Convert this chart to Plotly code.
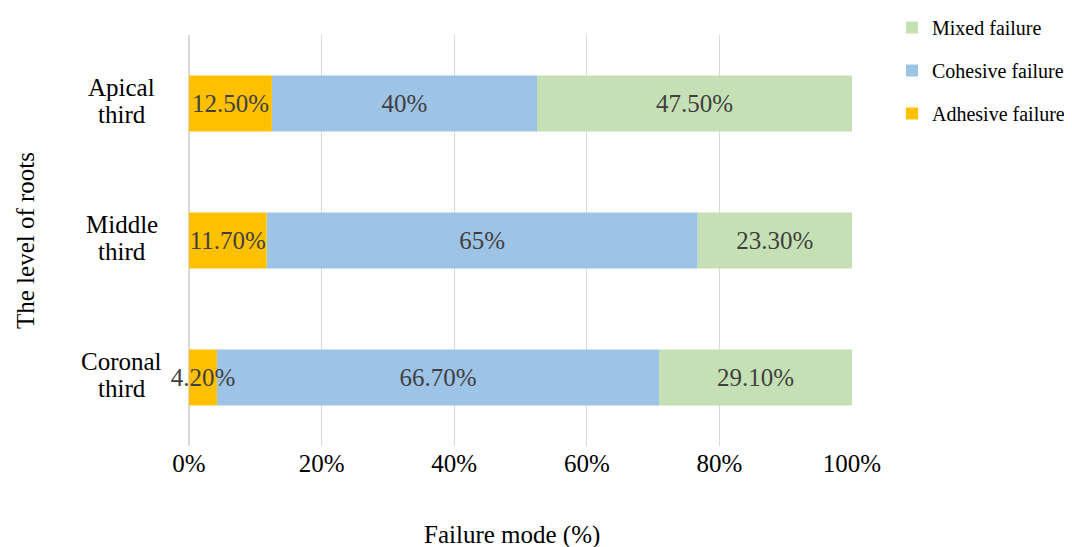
import plotly.graph_objects as go

categories = ["Coronal third", "Middle third", "Apical third"]
adhesive = [4.2, 11.7, 12.5]
cohesive = [66.7, 65.0, 40.0]
mixed = [29.1, 23.3, 47.5]
x_ticks = [0, 20, 40, 60, 80, 100]
x_ticktext = ["0%", "20%", "40%", "60%", "80%", "100%"]

def fmt(v):
    return f"{int(v)}%" if float(v).is_integer() else f"{v:.2f}%"

FONT = "Liberation Serif, Times New Roman, serif"

# page body has an 8px offset; margins compensate
L, R, T, B = 181, 228, 27, 109
W, H = 1072, 547
PW = W - L - R
PH = H - T - B

def px_x(x):  # screen px -> paper x
    return (x - 8 - L) / PW

def px_y(y):  # screen px -> paper y
    return (H - B - (y - 8)) / PH

# stacked bases computed from the data (drawn with adhesive last so its
# overflowing label sits on top of the neighbouring segment)
base_adh = [0.0] * len(categories)
base_coh = list(adhesive)
base_mix = [a + c for a, c in zip(adhesive, cohesive)]

series = [
    ("Mixed failure", mixed, base_mix, "#C5E0B4", 1),
    ("Cohesive failure", cohesive, base_coh, "#9DC3E6", 2),
    ("Adhesive failure", adhesive, base_adh, "#FFC000", 3),
]

fig = go.Figure()
for name, vals, base, color, rank in series:
    fig.add_trace(go.Bar(
        y=categories, x=vals, base=base, name=name, orientation="h",
        marker=dict(color=color, line=dict(width=0)),
        text=[fmt(v) for v in vals],
        textposition="inside", insidetextanchor="middle",
        textangle=0, constraintext="none",
        textfont=dict(family=FONT, size=25, color="#404040"),
        cliponaxis=False, legendgroup=name, legendrank=rank,
    ))

for c in categories:
    words = c.split(" ")
    n = len(words)
    for i, w in enumerate(words):
        fig.add_annotation(x=px_x(121.5), xref="paper", y=c, yref="y", text=w,
                           showarrow=False, align="center",
                           xanchor="center", yanchor="middle",
                           yshift=((n - 1) / 2 - i) * 27 + 3,
                           font=dict(family=FONT, size=25, color="#000000"))

fig.add_annotation(x=px_x(25), xref="paper", y=px_y(241), yref="paper",
                   text="The level of roots", textangle=-90, showarrow=False,
                   xanchor="center", yanchor="middle",
                   font=dict(family=FONT, size=25, color="#000000"))
fig.add_annotation(x=px_x(512), xref="paper", y=px_y(535), yref="paper",
                   text="Failure mode (%)", showarrow=False,
                   xanchor="center", yanchor="middle",
                   font=dict(family=FONT, size=25, color="#000000"))

fig.update_layout(
    width=W, height=H,
    margin=dict(l=L, r=R, t=T, b=B, autoexpand=False),
    barmode="overlay", bargap=0.59,
    plot_bgcolor="white", paper_bgcolor="white",
    font=dict(family=FONT, size=25, color="#000000"),
    showlegend=True,
    legend=dict(x=px_x(892), y=px_y(8), xanchor="left", yanchor="top",
                traceorder="grouped", tracegroupgap=14,
                font=dict(family=FONT, size=20, color="#000000"),
                bgcolor="rgba(0,0,0,0)"),
    xaxis=dict(range=[0, 100], tickmode="array", tickvals=x_ticks,
               ticktext=x_ticktext,
               showgrid=True, gridcolor="#D9D9D9", gridwidth=1,
               zeroline=True, zerolinecolor="#D9D9D9", showline=False,
               tickfont=dict(family=FONT, size=25, color="#000000"),
               fixedrange=True),
    yaxis=dict(showticklabels=False, showgrid=False, zeroline=False,
               categoryorder="array", categoryarray=categories),
)

fig.write_html("out.html")
